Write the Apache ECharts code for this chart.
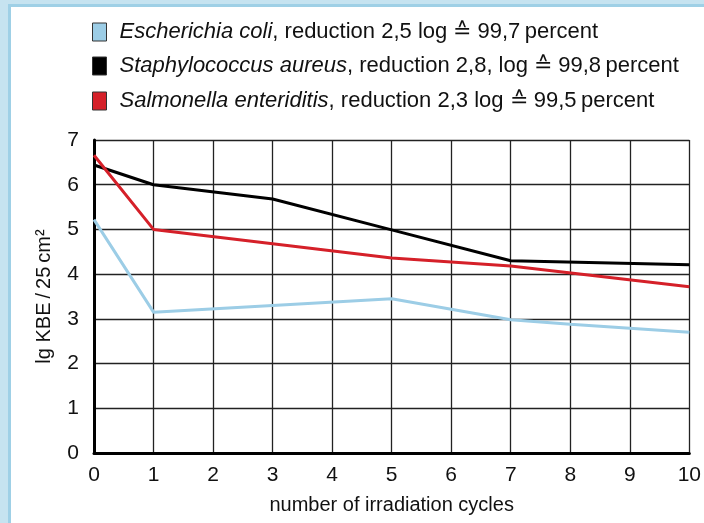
<!DOCTYPE html>
<html>
<head>
<meta charset="utf-8">
<script src="https://cdn.jsdelivr.net/npm/echarts@6/dist/echarts.min.js"></script>
<style>
  html, body { margin: 0; padding: 0; background: #c6e3f0; }
  #chart { width: 704px; height: 523px; }
</style>
</head>
<body>
<div id="chart"></div>
<script>
// irradiation cycles and lg KBE / 25 cm2 values
const eColi      = [[0, 5.22], [1, 3.15], [5, 3.45], [7, 2.98], [8, 2.88], [10, 2.7]]
const sAureus    = [[0, 6.44], [1, 6.0], [3, 5.68], [5, 4.99], [7, 4.3], [10, 4.21]]
const salmonella = [[0, 6.66], [1, 5.0], [5, 4.36], [7, 4.18], [10, 3.72]]

const names = ['Escherichia coli', 'Staphylococcus aureus', 'Salmonella enteriditis']
const legendTexts = {
  'Escherichia coli'      : ', reduction 2,5 log \u2259 99,7\u2009percent',
  'Staphylococcus aureus' : ', reduction 2,8, log \u2259 99,8\u2009percent',
  'Salmonella enteriditis': ', reduction 2,3 log \u2259 99,5\u2009percent'
}
const colors = ['#9ccde6', '#000000', '#d52029']
const legendTops = [21, 55, 90]

const font = '"Liberation Sans", Arial, sans-serif'

const chart = echarts.init(document.getElementById('chart'), null, { renderer: 'canvas' })

const legends = names.map((n, i) => ({
  data        : [n],
  left        : 92,
  top         : legendTops[i],
  padding     : 0,
  itemWidth   : 14,
  itemHeight  : 18,
  itemGap     : 0,
  icon        : 'rect',
  selectedMode: false,
  itemStyle   : { borderColor: '#333', borderWidth: 1 },
  formatter   : name => '{i|' + name + '}{n|' + legendTexts[name] + '}',
  textStyle   : {
    padding: [0, 0, 0, 8],
    rich: {
      i: { fontFamily: font, fontSize: 22, fontStyle: 'italic', color: '#111' },
      n: { fontFamily: font, fontSize: 22, color: '#111' }
    }
  }
}))

chart.setOption({
  animation: false,
  backgroundColor: '#c6e3f0',
  graphic: [
    { type: 'rect', shape: { x: 8, y: 4, width: 720, height: 540 }, style: { fill: '#9fd0e6' }, z: -10 },
    { type: 'rect', shape: { x: 11, y: 7, width: 720, height: 540 }, style: { fill: '#ffffff' }, z: -9 }
  ],
  color: colors,
  legend: legends,
  grid: { left: 94, right: 13, top: 140, bottom: 70 },
  xAxis: {
    type: 'value',
    min: 0,
    max: 10,
    interval: 1,
    name: 'number of irradiation cycles',
    nameLocation: 'middle',
    nameGap: 42,
    nameTextStyle: { fontFamily: font, fontSize: 20, color: '#111' },
    axisLine: { lineStyle: { color: '#000', width: 3 } },
    axisTick: { show: false },
    axisLabel: { fontFamily: font, fontSize: 21, color: '#111', margin: 12 },
    splitLine: { show: true, lineStyle: { color: '#222', width: 1.3 } }
  },
  yAxis: {
    type: 'value',
    min: 0,
    max: 7,
    interval: 1,
    name: 'lg KBE\u2009/\u200925\u2009cm\u00b2',
    nameLocation: 'middle',
    nameGap: 40,
    nameTextStyle: { fontFamily: font, fontSize: 20, color: '#111' },
    axisLine: { show: true, lineStyle: { color: '#000', width: 3 } },
    axisTick: { show: false },
    axisLabel: { fontFamily: font, fontSize: 21, color: '#111', margin: 15 },
    splitLine: { show: true, lineStyle: { color: '#222', width: 1.3 } }
  },
  series: [
    { name: names[0], type: 'line', data: eColi, showSymbol: false, lineStyle: { width: 3, color: colors[0] }, z: 3 },
    { name: names[1], type: 'line', data: sAureus, showSymbol: false, lineStyle: { width: 3, color: colors[1] }, z: 4 },
    { name: names[2], type: 'line', data: salmonella, showSymbol: false, lineStyle: { width: 3, color: colors[2] }, z: 5 }
  ]
})
</script>
</body>
</html>
